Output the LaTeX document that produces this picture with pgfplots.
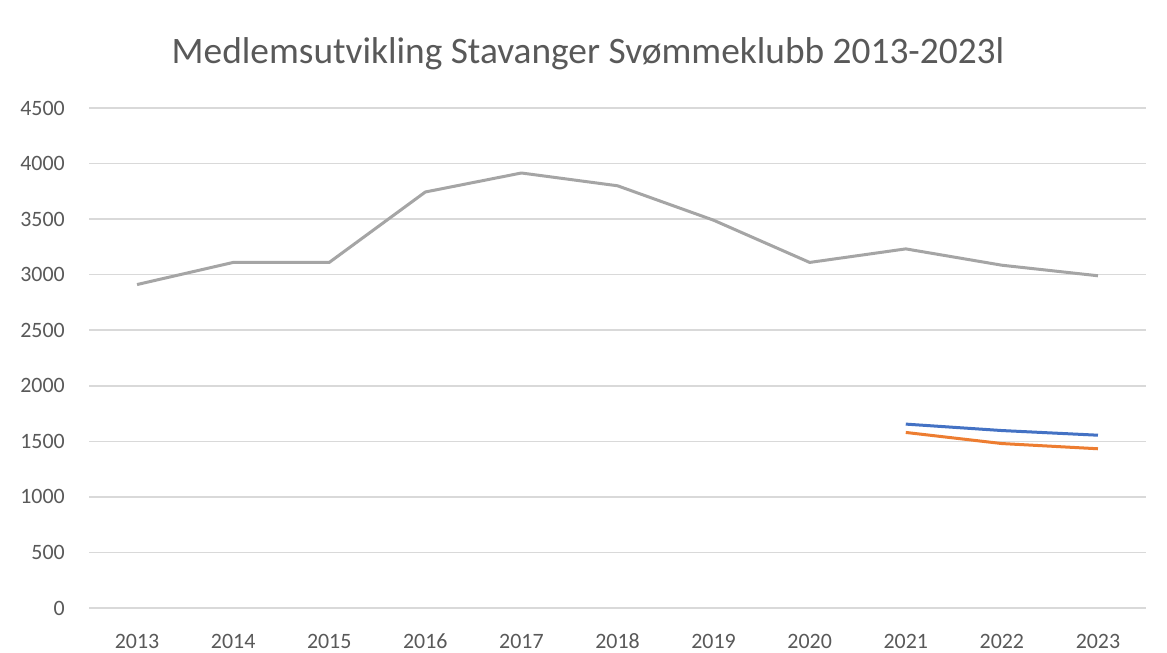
\documentclass[border=0pt]{standalone}
\usepackage{fontspec}
\setmainfont{Carlito}
\usepackage{pgfplots}
\pgfplotsset{compat=1.18}
\definecolor{cgray}{HTML}{A5A5A5}
\definecolor{cblue}{HTML}{4472C4}
\definecolor{corange}{HTML}{ED7D31}
\definecolor{cgrid}{HTML}{D9D9D9}
\definecolor{ctext}{HTML}{595959}
\begin{document}
\begin{tikzpicture}[x=1bp,y=1bp]
\path[use as bounding box, fill=white] (0,0) rectangle (1167,653);
\begin{axis}[
  at={(89bp,45bp)}, anchor=south west,
  scale only axis, width=1057bp, height=500bp,
  xmin=-0.5, xmax=10.5, ymin=0, ymax=4500,
  ytick={0,500,...,4500},
  xtick={0,...,10},
  xticklabels={2013,2014,2015,2016,2017,2018,2019,2020,2021,2022,2023},
  axis line style={draw=none},
  ymajorgrids,
  grid style={color=cgrid, line width=1.5bp},
  major tick length=0pt,
  tick style={draw=none},
  tick label style={font=\fontsize{22}{26}\selectfont, color=ctext},
  /pgf/number format/assume math mode=true,
  /pgf/number format/1000 sep={},
  yticklabel style={inner sep=0pt, xshift=-24bp},
  xticklabel style={inner sep=0pt, anchor=base, yshift=-41bp},
  clip=false,
]
\addplot[color=cgray, line width=3bp, line join=round] coordinates {
 (0,2911) (1,3110) (2,3110) (3,3744) (4,3915) (5,3800) (6,3490) (7,3110) (8,3232) (9,3085) (10,2990)};
\addplot[color=cblue, line width=3bp, line join=round] coordinates {
 (8,1655) (9,1597) (10,1555)};
\addplot[color=corange, line width=3bp, line join=round] coordinates {
 (8,1580) (9,1480) (10,1433)};
\end{axis}
\node[font=\fontsize{37.5}{44}\selectfont, text=ctext, anchor=base] at (588,589) {Medlemsutvikling Stavanger Svømmeklubb 2013-2023l};
\end{tikzpicture}
\end{document}
